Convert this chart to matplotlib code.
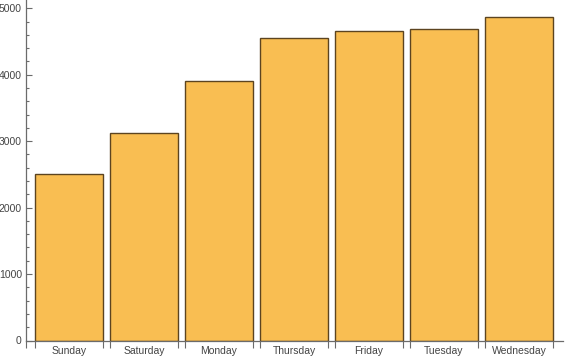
import matplotlib
matplotlib.use("Agg")
import matplotlib.pyplot as plt
from matplotlib.ticker import MultipleLocator, FixedLocator

days = ["Sunday", "Saturday", "Monday", "Thursday", "Friday", "Tuesday", "Wednesday"]
counts = [2505, 3122, 3905, 4553, 4658, 4683, 4864]

plt.rcParams['font.family'] = ['Liberation Sans', 'DejaVu Sans']

fig = plt.figure(figsize=(5.76, 3.56), dpi=100)
ax = fig.add_axes([26/576, 15.5/356, (563-26)/576, 340.5/356])

x = list(range(len(days)))
w = 68/75
ax.bar(x, counts, width=w, color="#F9BE52", edgecolor="#5C4420", linewidth=1.0)

ax.set_xlim((26-69)/75, (563-69)/75)
ax.set_ylim(0, 5000*340.5/332.2)

for s in ["top", "right"]:
    ax.spines[s].set_visible(False)
for s in ["left", "bottom"]:
    ax.spines[s].set_color("#6b6b6b")
    ax.spines[s].set_linewidth(0.9)

ax.yaxis.set_major_locator(MultipleLocator(1000))
ax.yaxis.set_minor_locator(MultipleLocator(200))
ax.tick_params(axis="y", which="major", direction="in", length=4, width=0.8, color="#6b6b6b",
               labelsize=7.5, labelcolor="#444444", pad=3)
ax.tick_params(axis="y", which="minor", direction="in", length=2.5, width=0.8, color="#6b6b6b")

edges = [ax.get_xlim()[0]]
for i in x:
    edges += [i - w/2, i + w/2]
ax.xaxis.set_minor_locator(FixedLocator(edges))
ax.set_xticks(x)
ax.set_xticklabels(days)
ax.tick_params(axis="x", which="major", length=0, labelsize=7.5, labelcolor="#444444", pad=4)
ax.tick_params(axis="x", which="minor", direction="out", length=5, width=0.8, color="#6b6b6b")

fig.savefig("out.png", dpi=100)
